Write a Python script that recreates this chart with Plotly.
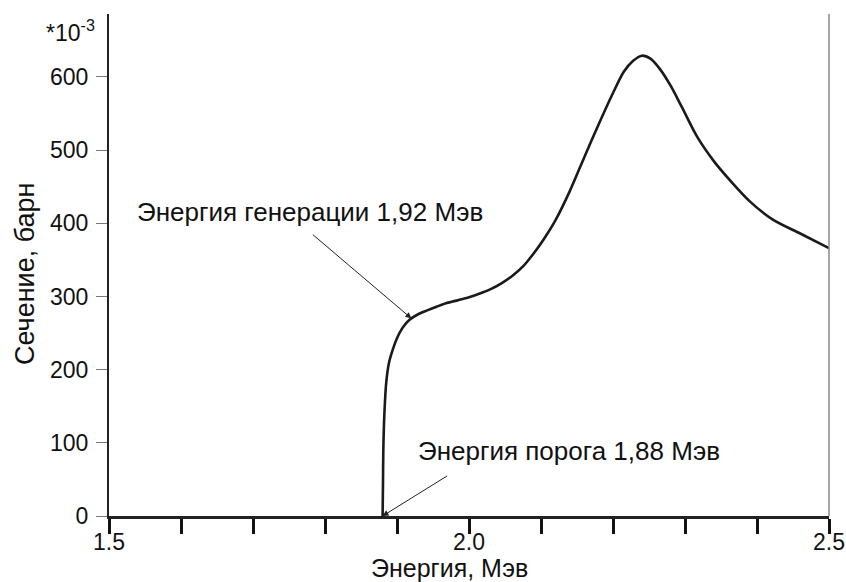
import plotly.graph_objects as go

# Cross-section vs energy (sigma in units of 1e-3 barn)
energy = [1.880, 1.8805, 1.881, 1.8825, 1.885, 1.889, 1.894, 1.900, 1.907, 1.914,
          1.920, 1.930, 1.942, 1.955, 1.969, 1.985, 2.000, 2.015, 2.030, 2.045,
          2.060, 2.075, 2.090, 2.105, 2.120, 2.140, 2.160, 2.180, 2.200, 2.215,
          2.228, 2.240, 2.252, 2.265, 2.280, 2.295, 2.317, 2.340, 2.365, 2.390,
          2.422, 2.460, 2.500]
sigma = [0, 40, 90, 140, 182, 210, 227, 243, 256, 265,
         270, 276, 281, 286, 291, 295, 299, 304, 310, 318,
         328, 341, 359, 380, 404, 444, 490, 535, 578, 607,
         622, 629, 625, 611, 588, 560, 518, 485, 456, 430,
         405, 386, 366]

x_tick_vals = [1.5, 1.6, 1.7, 1.8, 1.9, 2.0, 2.1, 2.2, 2.3, 2.4, 2.5]
x_tick_text = ["1.5", "", "", "", "", "2.0", "", "", "", "", "2.5"]
y_tick_vals = [0, 100, 200, 300, 400, 500, 600]

threshold_energy = 1.88
generation_energy = 1.92
generation_sigma = 270

FONT = "Liberation Sans, Arial, sans-serif"
TXT = "#111111"

fig = go.Figure()
fig.add_trace(go.Scatter(
    x=energy, y=sigma, mode="lines",
    line=dict(color="#1a1a1a", width=2.6, shape="spline", smoothing=0.8),
    hoverinfo="skip", showlegend=False,
))

fig.update_layout(
    width=846, height=582,
    margin=dict(l=109, r=17, t=14, b=66),
    paper_bgcolor="white", plot_bgcolor="white",
    font=dict(family=FONT, color=TXT),
    xaxis=dict(
        range=[1.5, 2.5], showgrid=False, zeroline=False, automargin=False,
        tickmode="array", tickvals=x_tick_vals, ticktext=x_tick_text,
        ticks="outside", ticklen=15, tickwidth=3, tickcolor="#111111",
        showline=True, linecolor="#222222", linewidth=2.5,
        tickfont=dict(size=23, family=FONT, color=TXT),
        ticklabelstandoff=-11,
    ),
    yaxis=dict(
        range=[0, 686], showgrid=False, zeroline=False, automargin=False,
        tickmode="array", tickvals=y_tick_vals,
        ticks="outside", ticklen=11, tickwidth=1, tickcolor="#777777",
        showline=True, linecolor="#222222", linewidth=2,
        tickfont=dict(size=23, family=FONT, color=TXT),
        ticklabelstandoff=3,
    ),
)

# thin right frame line
fig.add_shape(type="line", xref="paper", yref="paper",
              x0=1, x1=1, y0=0, y1=1,
              line=dict(color="#888888", width=1.5))

annotations = [
    # axis titles
    dict(text="Энергия, Мэв", xref="paper", yref="paper", x=0.4736, y=-0.104,
         xanchor="center", yanchor="middle", showarrow=False, borderpad=0,
         font=dict(size=25, family=FONT, color=TXT)),
    dict(text="Сечение, барн", xref="paper", yref="paper", x=-0.1167, y=0.484,
         xanchor="center", yanchor="middle", showarrow=False, textangle=-90,
         font=dict(size=27, family=FONT, color=TXT)),
    # scale factor
    dict(text="*10<sup>-3</sup>", xref="paper", yref="paper", x=-0.016, y=0.967,
         xanchor="right", yanchor="middle", showarrow=False,
         font=dict(size=23, family=FONT, color=TXT)),
    # labels
    dict(text="Энергия генерации 1,92 Мэв", xref="paper", yref="paper",
         x=0.279, y=0.6056, xanchor="center", yanchor="middle", showarrow=False,
         font=dict(size=26, family=FONT, color=TXT)),
    dict(text="Энергия порога 1,88 Мэв", xref="paper", yref="paper",
         x=0.639, y=0.1295, xanchor="center", yanchor="middle", showarrow=False,
         font=dict(size=26, family=FONT, color=TXT)),
    # arrows
    dict(text="", x=generation_energy, y=generation_sigma, xref="x", yref="y",
         showarrow=True, ax=-100, ay=-85, arrowhead=2, arrowsize=1.2,
         arrowwidth=1, arrowcolor="#222222"),
    dict(text="", x=threshold_energy, y=0, xref="x", yref="y",
         showarrow=True, ax=66, ay=-41, arrowhead=2, arrowsize=1.2,
         arrowwidth=1, arrowcolor="#222222"),
]
fig.update_layout(annotations=annotations)

fig.write_html("out.html")
